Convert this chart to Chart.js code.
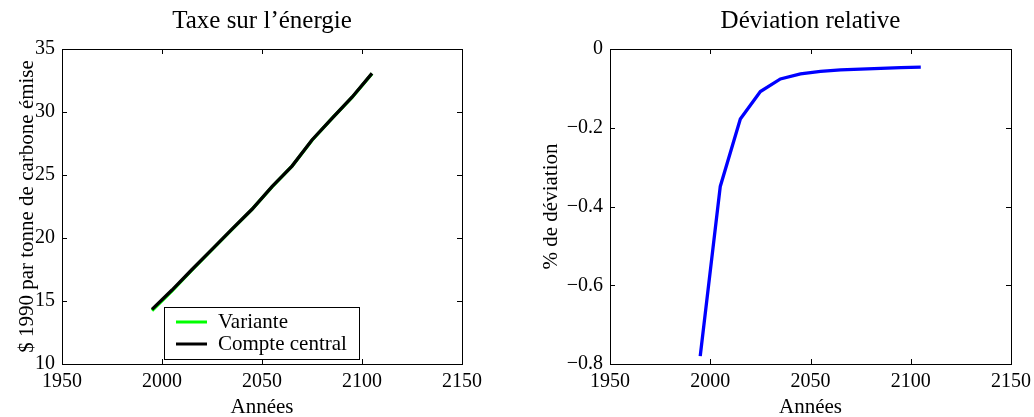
<!DOCTYPE html>
<html>
<head>
<meta charset="utf-8">
<script src="https://cdn.jsdelivr.net/npm/chart.js@4.4.1/dist/chart.umd.min.js"></script>
<style>
  body { margin: 0; background: #fff; }
  #wrap { position: relative; width: 1034px; height: 417px; }
  canvas { position: absolute; top: 0; }
</style>
</head>
<body>
<div id="wrap">
  <canvas id="tax" width="517" height="417" style="left:0"></canvas>
  <canvas id="dev" width="517" height="417" style="left:517px"></canvas>
</div>
<script>
const years = [1995, 2005, 2015, 2025, 2035, 2045, 2055, 2065, 2075, 2085, 2095, 2105];
const taxVariante = [14.23, 15.81, 17.47, 19.08, 20.68, 22.27, 24.06, 25.70, 27.76, 29.49, 31.15, 33.05];
const taxCentral = [14.34, 15.87, 17.50, 19.10, 20.70, 22.28, 24.07, 25.71, 27.78, 29.50, 31.17, 33.07];
const deviation = [-0.78, -0.349, -0.178, -0.108, -0.076, -0.063, -0.057, -0.053, -0.051, -0.049, -0.0475, -0.046];
const xTicks = [1950, 2000, 2050, 2100, 2150];
const taxTicks = [10, 15, 20, 25, 30, 35];
const devTicks = [-0.8, -0.6, -0.4, -0.2, 0];

const FONT = '"Liberation Serif", "Times New Roman", serif';

function points(ys) {
    return years.map((x, i) => ({ x: x, y: ys[i] }));
}

function setTicks(list) {
    return function (scale) {
        scale.ticks = list.map(v => ({ value: v }));
    };
}

function minusSign(v) {
    return String(v).replace("-", "\u2212");
}

// matlab style box with inward ticks
const boxPlugin = {
    id: "matlabBox",
    afterDatasetsDraw(chart) {
        const { ctx, chartArea: a, scales } = chart;
        const len = 5;
        ctx.save();
        ctx.strokeStyle = "#000";
        ctx.lineWidth = 1;
        ctx.beginPath();
        scales.x.ticks.forEach(t => {
            const px = Math.round(scales.x.getPixelForValue(t.value)) + 0.5;
            ctx.moveTo(px, a.bottom); ctx.lineTo(px, a.bottom - len);
            ctx.moveTo(px, a.top); ctx.lineTo(px, a.top + len);
        });
        scales.y.ticks.forEach(t => {
            const py = Math.round(scales.y.getPixelForValue(t.value)) + 0.5;
            ctx.moveTo(a.left, py); ctx.lineTo(a.left + len, py);
            ctx.moveTo(a.right, py); ctx.lineTo(a.right - len, py);
        });
        ctx.stroke();
        ctx.strokeRect(Math.round(a.left) + 0.5, Math.round(a.top) + 0.5,
            Math.round(a.right - a.left), Math.round(a.bottom - a.top));
        ctx.restore();
    }
};

const legendPlugin = {
    id: "boxLegend",
    afterDraw(chart) {
        const { ctx, chartArea: a } = chart;
        const left = a.left + 102, top = a.bottom - 57;
        const w = 195, h = 52;
        ctx.save();
        ctx.fillStyle = "#fff";
        ctx.fillRect(left, top, w, h);
        ctx.strokeStyle = "#000";
        ctx.lineWidth = 1;
        ctx.strokeRect(left + 0.5, top + 0.5, w, h);
        ctx.font = "21px " + FONT;
        ctx.textBaseline = "middle";
        chart.data.datasets.forEach((ds, i) => {
            const y = top + 15 + i * 22;
            ctx.strokeStyle = ds.borderColor;
            ctx.lineWidth = 3;
            ctx.beginPath();
            ctx.moveTo(left + 12, y);
            ctx.lineTo(left + 43, y);
            ctx.stroke();
            ctx.fillStyle = "#000";
            ctx.fillText(ds.label, left + 54, y);
        });
        ctx.restore();
    }
};

function makeOptions(title, yLabel, yMin, yMax, yTickList, padLeft, yWidth, padRight) {
    return {
        responsive: false,
        animation: false,
        devicePixelRatio: 1,
        layout: { padding: { left: padLeft, right: padRight, top: 0, bottom: 0 } },
        plugins: {
            legend: { display: false },
            tooltip: { enabled: false },
            title: {
                display: true,
                text: title,
                fullSize: false,
                color: "#000",
                font: { family: FONT, size: 25, weight: "normal", lineHeight: 1.2 },
                padding: { top: 6, bottom: 13 }
            }
        },
        scales: {
            x: {
                type: "linear",
                min: 1950,
                max: 2150,
                afterBuildTicks: setTicks(xTicks),
                afterFit(scale) {
                    scale.height = 53;
                    scale.paddingLeft = 0;
                    scale.paddingRight = 0;
                },
                grid: { display: false, drawTicks: false },
                border: { display: false },
                ticks: {
                    color: "#000",
                    padding: 6,
                    maxRotation: 0,
                    font: { family: FONT, size: 20 },
                    callback: v => String(v)
                },
                title: {
                    display: true,
                    text: "Années",
                    color: "#000",
                    padding: 0,
                    font: { family: FONT, size: 21, lineHeight: 0.9 }
                }
            },
            y: {
                min: yMin,
                max: yMax,
                afterBuildTicks: setTicks(yTickList),
                afterFit(scale) {
                    scale.width = yWidth;
                    scale.paddingTop = 0;
                    scale.paddingBottom = 0;
                },
                grid: { display: false, drawTicks: false },
                border: { display: false },
                ticks: {
                    color: "#000",
                    padding: 7,
                    font: { family: FONT, size: 20 },
                    callback: minusSign
                },
                title: {
                    display: true,
                    text: yLabel,
                    color: "#000",
                    padding: 0,
                    font: { family: FONT, size: 21, lineHeight: 0.9 }
                }
            }
        }
    };
}

new Chart(document.getElementById("tax").getContext("2d"), {
    type: "line",
    data: {
        datasets: [
            {
                label: "Variante",
                data: points(taxVariante),
                borderColor: "#00ff00",
                borderWidth: 3.3,
                pointRadius: 0,
                tension: 0,
                order: 1
            },
            {
                label: "Compte central",
                data: points(taxCentral),
                borderColor: "#000000",
                borderWidth: 3.3,
                pointRadius: 0,
                tension: 0,
                order: 0
            }
        ]
    },
    options: makeOptions("Taxe sur l\u2019énergie", "$ 1990 par tonne de carbone émise",
        10, 35, taxTicks, 18, 44, 55),
    plugins: [boxPlugin, legendPlugin]
});

new Chart(document.getElementById("dev").getContext("2d"), {
    type: "line",
    data: {
        datasets: [
            {
                label: "Déviation",
                data: points(deviation),
                borderColor: "#0000ff",
                borderWidth: 3.3,
                pointRadius: 0,
                tension: 0
            }
        ]
    },
    options: makeOptions("Déviation relative", "% de déviation",
        -0.8, 0, devTicks, 25, 68, 23),
    plugins: [boxPlugin]
});
</script>
</body>
</html>
